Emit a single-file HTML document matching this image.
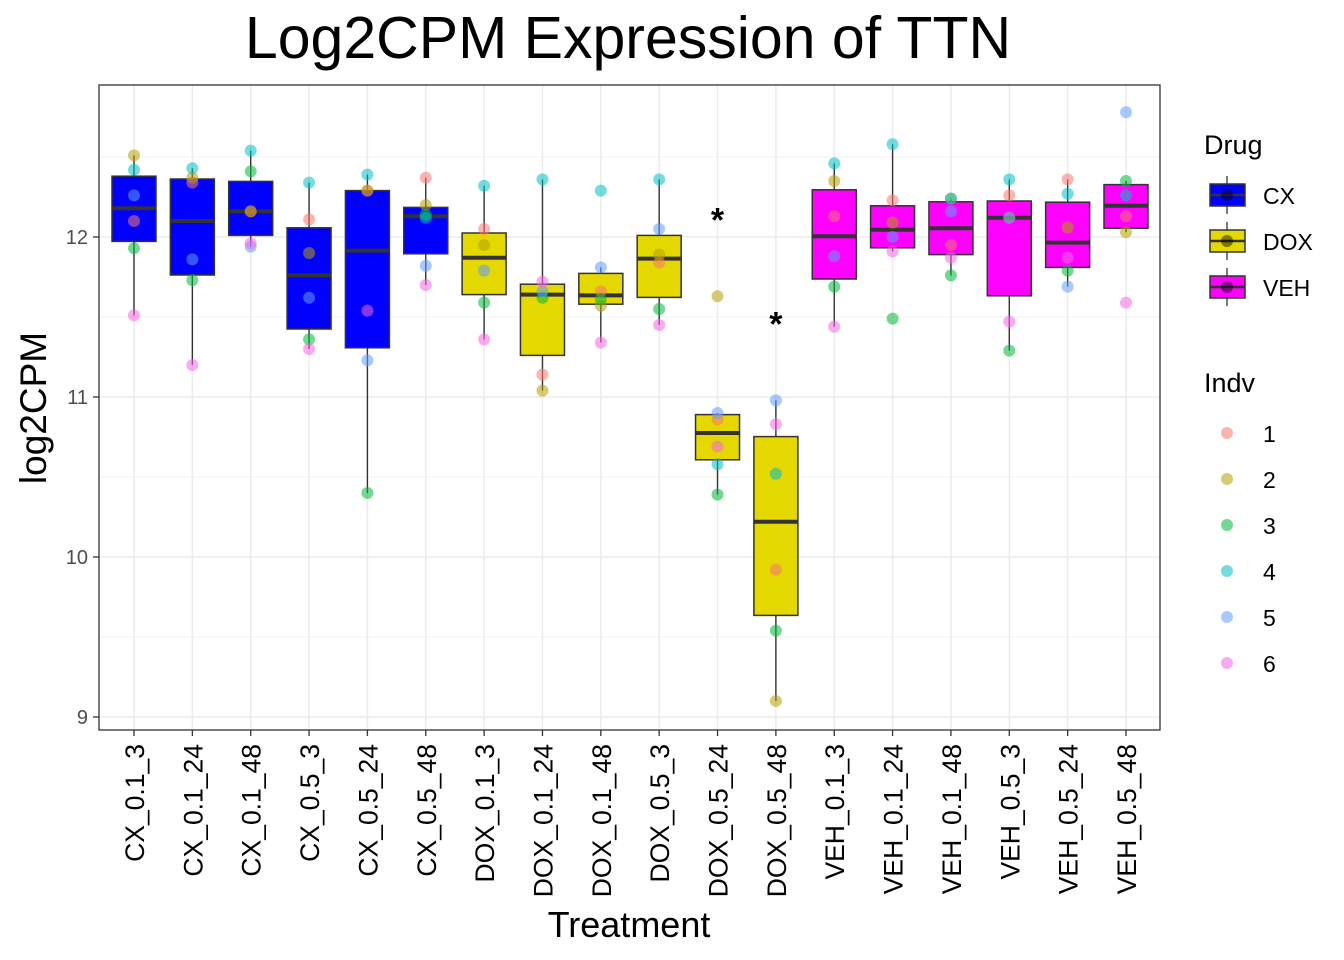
<!DOCTYPE html>
<html><head><meta charset="utf-8"><style>
html,body{margin:0;padding:0;background:#fff;}
svg{display:block;font-family:"Liberation Sans",Arial,sans-serif;}
</style></head><body>
<svg id="chart" width="1344" height="960" viewBox="0 0 1344 960">
<text x="628" y="58" font-size="59" text-anchor="middle">Log2CPM Expression of TTN</text>
<rect x="99" y="85" width="1061" height="645" fill="#fff"/>
<g id="grid"></g>
<g id="marks"></g>
<rect x="99" y="85" width="1061" height="645" fill="none" stroke="#333" stroke-width="1.3"/>
<g id="axes"></g>
<text x="629" y="937" font-size="36" text-anchor="middle">Treatment</text>
<text transform="translate(46,408) rotate(-90)" font-size="37" text-anchor="middle">log2CPM</text>
<g id="legend"></g>
</svg>
<script>
const categories=["CX_0.1_3","CX_0.1_24","CX_0.1_48","CX_0.5_3","CX_0.5_24","CX_0.5_48","DOX_0.1_3","DOX_0.1_24","DOX_0.1_48","DOX_0.5_3","DOX_0.5_24","DOX_0.5_48","VEH_0.1_3","VEH_0.1_24","VEH_0.1_48","VEH_0.5_3","VEH_0.5_24","VEH_0.5_48"];
const drugs=["CX","CX","CX","CX","CX","CX","DOX","DOX","DOX","DOX","DOX","DOX","VEH","VEH","VEH","VEH","VEH","VEH"];
// values per category for individuals 1..6
const values=[
[12.10,12.51,11.93,12.42,12.26,11.51],
[12.34,12.37,11.73,12.43,11.86,11.20],
[12.16,12.16,12.41,12.54,11.94,11.96],
[12.11,11.90,11.36,12.34,11.62,11.30],
[12.29,12.29,10.40,12.39,11.23,11.54],
[12.37,12.20,12.14,12.12,11.82,11.70],
[12.05,11.95,11.59,12.32,11.79,11.36],
[11.14,11.04,11.62,12.36,11.66,11.72],
[11.66,11.57,11.61,12.29,11.81,11.34],
[11.84,11.89,11.55,12.36,12.05,11.45],
[10.86,11.63,10.39,10.58,10.90,10.69],
[9.92,9.10,9.54,10.52,10.98,10.83],
[12.13,12.35,11.69,12.46,11.88,11.44],
[12.23,12.09,11.49,12.58,12.00,11.91],
[11.95,12.24,11.76,12.24,12.16,11.87],
[12.26,12.12,11.29,12.36,12.12,11.47],
[12.36,12.06,11.79,12.27,11.69,11.87],
[12.13,12.03,12.35,12.26,12.78,11.59]];
const yTicks=[9,10,11,12];
const starCats=["DOX_0.5_24","DOX_0.5_48"];
const starVals=[12.16,11.51];
const drugNames=["CX","DOX","VEH"];
const indvNames=["1","2","3","4","5","6"];

const NS="http://www.w3.org/2000/svg";
const drugColor={CX:"#0000FF",DOX:"#E5D800",VEH:"#FF00FF"};
const indvColor=["#F8766D","#B79F00","#00BA38","#00BFC4","#619CFF","#F564E3"];
const X=i=>134+i*(1126-134)/17;
const Y=v=>237-(v-12)*160;
function mk(tag,attrs,parent){const e=document.createElementNS(NS,tag);for(const k in attrs)e.setAttribute(k,attrs[k]);parent.appendChild(e);return e;}
const grid=document.getElementById('grid'),marks=document.getElementById('marks'),axes=document.getElementById('axes'),legend=document.getElementById('legend');
for(let v=8.5;v<=13;v+=0.5){const y=Y(v);if(y<85||y>730)continue;const l=mk('line',{x1:99,x2:1160,y1:y,y2:y,stroke:'#ebebeb','stroke-width':Number.isInteger(v)?1.5:0.8},grid);

}
categories.forEach((c,i)=>{const l=mk('line',{x1:X(i),x2:X(i),y1:85,y2:730,stroke:'#ebebeb','stroke-width':1.5},grid);

});
function q(s,p){const h=(s.length-1)*p,lo=Math.floor(h);return s[lo]+(h-lo)*((s[lo+1]??s[lo])-s[lo]);}
const bw=44;
categories.forEach((c,i)=>{
 const s=[...values[i]].sort((a,b)=>a-b);
 const q1=q(s,.25),md=q(s,.5),q3=q(s,.75),iqr=q3-q1;
 const lo=Math.min(...s.filter(v=>v>=q1-1.5*iqr)),hi=Math.max(...s.filter(v=>v<=q3+1.5*iqr));
 const g=mk('g',{},marks);
 
 
 mk('line',{x1:X(i),x2:X(i),y1:Y(hi),y2:Y(q3),stroke:'#333','stroke-width':1.4},g);
 mk('line',{x1:X(i),x2:X(i),y1:Y(q1),y2:Y(lo),stroke:'#333','stroke-width':1.4},g);
 mk('rect',{x:X(i)-bw/2,y:Y(q3),width:bw,height:Y(q1)-Y(q3),fill:drugColor[drugs[i]],stroke:'#333','stroke-width':1.5},g);
 mk('line',{x1:X(i)-bw/2,x2:X(i)+bw/2,y1:Y(md),y2:Y(md),stroke:'#333','stroke-width':4},g);
 values[i].forEach((v,k)=>{const p=mk('circle',{cx:X(i),cy:Y(v),r:6,fill:indvColor[k],'fill-opacity':0.55},marks);
 
 });
});
starCats.forEach((c,k)=>{const i=categories.indexOf(c);const t=mk('text',{x:X(i),y:Y(starVals[k])+20,'font-size':34,'font-weight':'bold','text-anchor':'middle'},marks);t.textContent='*';

});
yTicks.forEach(v=>{const y=Y(v);mk('line',{x1:93,x2:99,y1:y,y2:y,stroke:'#333','stroke-width':1.3},axes);
const t=mk('text',{x:88,y:y+7,'font-size':20,fill:'#4d4d4d','text-anchor':'end'},axes);t.textContent=v;

});
categories.forEach((c,i)=>{mk('line',{x1:X(i),x2:X(i),y1:730,y2:736,stroke:'#333','stroke-width':1.3},axes);
const t=mk('text',{transform:`translate(${X(i)+10},744) rotate(-90)`,'font-size':26.5,'text-anchor':'end'},axes);t.textContent=c;

});
let lt=mk('text',{x:1204,y:154,'font-size':27},legend);lt.textContent='Drug';


drugNames.forEach((d,k)=>{const y=195+k*46;const g=mk('g',{},legend);


mk('line',{x1:1227,x2:1227,y1:y-19,y2:y+19,stroke:'#333','stroke-width':1.3},g);
mk('rect',{x:1210,y:y-11,width:35,height:22,fill:drugColor[d],stroke:'#333','stroke-width':1.5},g);
mk('line',{x1:1210,x2:1245,y1:y,y2:y,stroke:'#333','stroke-width':2.5},g);
mk('circle',{cx:1227,cy:y,r:6,fill:'#000','fill-opacity':0.45},g);
const t=mk('text',{x:1263,y:y+9,'font-size':23},g);t.textContent=d;});
lt=mk('text',{x:1204,y:392,'font-size':27},legend);lt.textContent='Indv';


indvNames.forEach((n,k)=>{const y=433+k*46;const g=mk('g',{},legend);


mk('circle',{cx:1227,cy:y,r:6,fill:indvColor[k],'fill-opacity':0.55},g);
const t=mk('text',{x:1263,y:y+9,'font-size':23},g);t.textContent=n;});
</script>
</body></html>
